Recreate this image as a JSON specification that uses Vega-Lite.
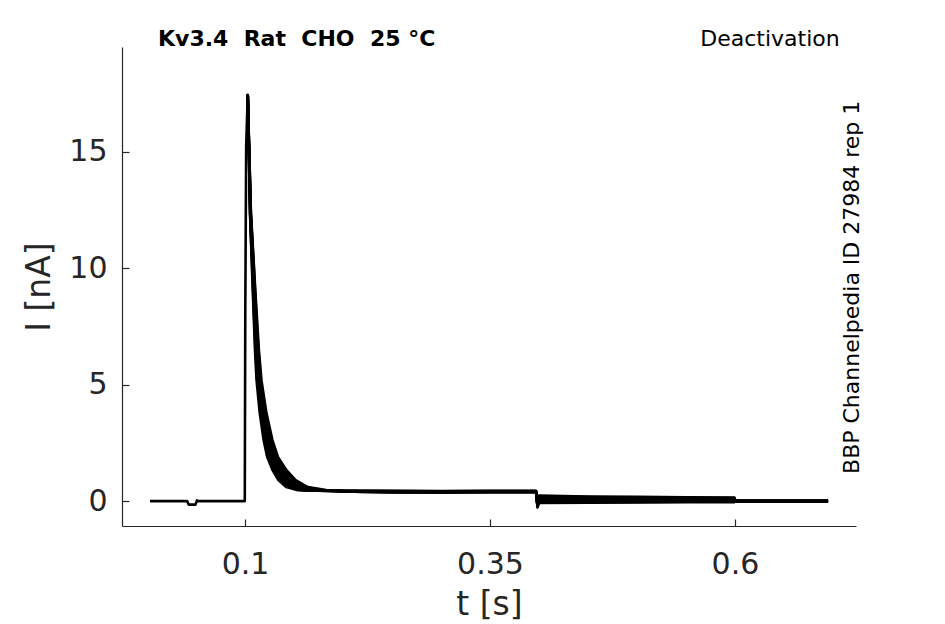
{
  "$schema": "https://vega.github.io/schema/vega-lite/v6.json",
  "width": 734,
  "height": 479,
  "autosize": {"type": "none"},
  "padding": {"left": 122, "top": 47, "right": 89, "bottom": 98},
  "background": "white",
  "config": {"view": {"stroke": null}, "font": "DejaVu Sans"},
  "title": {
    "text": "Kv3.4\u00a0 Rat\u00a0 CHO\u00a0 25 °C",
    "anchor": "start",
    "frame": "group",
    "dx": 36,
    "offset": -23,
    "font": "DejaVu Sans",
    "fontSize": 22,
    "fontWeight": "bold",
    "color": "black"
  },
  "layer": [
    {
      "data": {
        "values": [
          {"sweep": "e", "t": 0.003, "i": 0},
          {"sweep": "e", "t": 0.041, "i": 0},
          {"sweep": "e", "t": 0.0425, "i": -0.15},
          {"sweep": "e", "t": 0.0495, "i": -0.15},
          {"sweep": "e", "t": 0.051, "i": 0.03},
          {"sweep": "e", "t": 0.052, "i": 0},
          {"sweep": "e", "t": 0.0998, "i": 0},
          {"sweep": "e", "t": 0.1003, "i": 8},
          {"sweep": "e", "t": 0.1012, "i": 15.2},
          {"sweep": "e", "t": 0.1028, "i": 17.45},
          {"sweep": "e", "t": 0.1041, "i": 15.06},
          {"sweep": "e", "t": 0.1056, "i": 12.36},
          {"sweep": "e", "t": 0.1097, "i": 8.63},
          {"sweep": "e", "t": 0.1122, "i": 6.48},
          {"sweep": "e", "t": 0.1143, "i": 5.19},
          {"sweep": "e", "t": 0.1184, "i": 3.8},
          {"sweep": "e", "t": 0.1235, "i": 2.62},
          {"sweep": "e", "t": 0.1281, "i": 1.9},
          {"sweep": "e", "t": 0.1352, "i": 1.33},
          {"sweep": "e", "t": 0.1429, "i": 0.9},
          {"sweep": "e", "t": 0.1531, "i": 0.6},
          {"sweep": "e", "t": 0.1684, "i": 0.47},
          {"sweep": "e", "t": 0.1969, "i": 0.42},
          {"sweep": "e", "t": 0.25, "i": 0.41},
          {"sweep": "e", "t": 0.3, "i": 0.4},
          {"sweep": "e", "t": 0.35, "i": 0.41},
          {"sweep": "e", "t": 0.397, "i": 0.41},
          {"sweep": "e", "t": 0.3985, "i": -0.19},
          {"sweep": "e", "t": 0.4, "i": 0.06},
          {"sweep": "e", "t": 0.45, "i": 0.05},
          {"sweep": "e", "t": 0.5, "i": 0.05},
          {"sweep": "e", "t": 0.55, "i": 0.04},
          {"sweep": "e", "t": 0.5995, "i": 0.04},
          {"sweep": "e", "t": 0.6005, "i": 0},
          {"sweep": "e", "t": 0.695, "i": 0},

          {"sweep": "a", "t": 0.1028, "i": 17.45},
          {"sweep": "a", "t": 0.1039, "i": 15.06},
          {"sweep": "a", "t": 0.1051, "i": 12.36},
          {"sweep": "a", "t": 0.1083, "i": 8.63},
          {"sweep": "a", "t": 0.1102, "i": 6.48},
          {"sweep": "a", "t": 0.1118, "i": 5.19},
          {"sweep": "a", "t": 0.115, "i": 3.8},
          {"sweep": "a", "t": 0.119, "i": 2.62},
          {"sweep": "a", "t": 0.1226, "i": 1.9},
          {"sweep": "a", "t": 0.1281, "i": 1.33},
          {"sweep": "a", "t": 0.1341, "i": 0.9},
          {"sweep": "a", "t": 0.1421, "i": 0.6},
          {"sweep": "a", "t": 0.154, "i": 0.47},
          {"sweep": "a", "t": 0.1763, "i": 0.45},
          {"sweep": "a", "t": 0.25, "i": 0.44},
          {"sweep": "a", "t": 0.3, "i": 0.43},
          {"sweep": "a", "t": 0.35, "i": 0.44},
          {"sweep": "a", "t": 0.397, "i": 0.44},
          {"sweep": "a", "t": 0.3985, "i": -0.05},
          {"sweep": "a", "t": 0.4, "i": 0.24},
          {"sweep": "a", "t": 0.45, "i": 0.2},
          {"sweep": "a", "t": 0.5, "i": 0.18},
          {"sweep": "a", "t": 0.55, "i": 0.16},
          {"sweep": "a", "t": 0.5995, "i": 0.15},
          {"sweep": "a", "t": 0.6005, "i": 0.01},
          {"sweep": "a", "t": 0.695, "i": 0.01},

          {"sweep": "b", "t": 0.1028, "i": 17.45},
          {"sweep": "b", "t": 0.1039, "i": 15.06},
          {"sweep": "b", "t": 0.1052, "i": 12.36},
          {"sweep": "b", "t": 0.1086, "i": 8.63},
          {"sweep": "b", "t": 0.1107, "i": 6.48},
          {"sweep": "b", "t": 0.1125, "i": 5.19},
          {"sweep": "b", "t": 0.1159, "i": 3.8},
          {"sweep": "b", "t": 0.1201, "i": 2.62},
          {"sweep": "b", "t": 0.124, "i": 1.9},
          {"sweep": "b", "t": 0.1299, "i": 1.33},
          {"sweep": "b", "t": 0.1363, "i": 0.9},
          {"sweep": "b", "t": 0.1449, "i": 0.6},
          {"sweep": "b", "t": 0.1576, "i": 0.47},
          {"sweep": "b", "t": 0.1814, "i": 0.44},
          {"sweep": "b", "t": 0.25, "i": 0.43},
          {"sweep": "b", "t": 0.3, "i": 0.42},
          {"sweep": "b", "t": 0.35, "i": 0.43},
          {"sweep": "b", "t": 0.397, "i": 0.43},
          {"sweep": "b", "t": 0.3985, "i": -0.08},
          {"sweep": "b", "t": 0.4, "i": 0.2},
          {"sweep": "b", "t": 0.45, "i": 0.17},
          {"sweep": "b", "t": 0.5, "i": 0.15},
          {"sweep": "b", "t": 0.55, "i": 0.14},
          {"sweep": "b", "t": 0.5995, "i": 0.125},
          {"sweep": "b", "t": 0.6005, "i": 0},
          {"sweep": "b", "t": 0.695, "i": 0},

          {"sweep": "c", "t": 0.1028, "i": 17.45},
          {"sweep": "c", "t": 0.104, "i": 15.06},
          {"sweep": "c", "t": 0.1053, "i": 12.36},
          {"sweep": "c", "t": 0.109, "i": 8.63},
          {"sweep": "c", "t": 0.1112, "i": 6.48},
          {"sweep": "c", "t": 0.1131, "i": 5.19},
          {"sweep": "c", "t": 0.1167, "i": 3.8},
          {"sweep": "c", "t": 0.1213, "i": 2.62},
          {"sweep": "c", "t": 0.1254, "i": 1.9},
          {"sweep": "c", "t": 0.1317, "i": 1.33},
          {"sweep": "c", "t": 0.1385, "i": 0.9},
          {"sweep": "c", "t": 0.1476, "i": 0.6},
          {"sweep": "c", "t": 0.1612, "i": 0.47},
          {"sweep": "c", "t": 0.1866, "i": 0.44},
          {"sweep": "c", "t": 0.25, "i": 0.42},
          {"sweep": "c", "t": 0.3, "i": 0.41},
          {"sweep": "c", "t": 0.35, "i": 0.42},
          {"sweep": "c", "t": 0.397, "i": 0.42},
          {"sweep": "c", "t": 0.3985, "i": -0.12},
          {"sweep": "c", "t": 0.4, "i": 0.15},
          {"sweep": "c", "t": 0.45, "i": 0.13},
          {"sweep": "c", "t": 0.5, "i": 0.12},
          {"sweep": "c", "t": 0.55, "i": 0.11},
          {"sweep": "c", "t": 0.5995, "i": 0.1},
          {"sweep": "c", "t": 0.6005, "i": 0},
          {"sweep": "c", "t": 0.695, "i": 0},

          {"sweep": "d", "t": 0.1028, "i": 17.45},
          {"sweep": "d", "t": 0.1041, "i": 15.06},
          {"sweep": "d", "t": 0.1055, "i": 12.36},
          {"sweep": "d", "t": 0.1093, "i": 8.63},
          {"sweep": "d", "t": 0.1117, "i": 6.48},
          {"sweep": "d", "t": 0.1137, "i": 5.19},
          {"sweep": "d", "t": 0.1176, "i": 3.8},
          {"sweep": "d", "t": 0.1224, "i": 2.62},
          {"sweep": "d", "t": 0.1267, "i": 1.9},
          {"sweep": "d", "t": 0.1334, "i": 1.33},
          {"sweep": "d", "t": 0.1407, "i": 0.9},
          {"sweep": "d", "t": 0.1504, "i": 0.6},
          {"sweep": "d", "t": 0.1648, "i": 0.47},
          {"sweep": "d", "t": 0.1917, "i": 0.43},
          {"sweep": "d", "t": 0.25, "i": 0.41},
          {"sweep": "d", "t": 0.3, "i": 0.405},
          {"sweep": "d", "t": 0.35, "i": 0.415},
          {"sweep": "d", "t": 0.397, "i": 0.415},
          {"sweep": "d", "t": 0.3985, "i": -0.16},
          {"sweep": "d", "t": 0.4, "i": 0.1},
          {"sweep": "d", "t": 0.45, "i": 0.09},
          {"sweep": "d", "t": 0.5, "i": 0.08},
          {"sweep": "d", "t": 0.55, "i": 0.075},
          {"sweep": "d", "t": 0.5995, "i": 0.07},
          {"sweep": "d", "t": 0.6005, "i": 0},
          {"sweep": "d", "t": 0.695, "i": 0},

          {"sweep": "f", "t": 0.1028, "i": 17.45},
          {"sweep": "f", "t": 0.1042, "i": 15.06},
          {"sweep": "f", "t": 0.1057, "i": 12.36},
          {"sweep": "f", "t": 0.1101, "i": 8.63},
          {"sweep": "f", "t": 0.1127, "i": 6.48},
          {"sweep": "f", "t": 0.1149, "i": 5.19},
          {"sweep": "f", "t": 0.1192, "i": 3.8},
          {"sweep": "f", "t": 0.1246, "i": 2.62},
          {"sweep": "f", "t": 0.1295, "i": 1.9},
          {"sweep": "f", "t": 0.137, "i": 1.33},
          {"sweep": "f", "t": 0.1451, "i": 0.9},
          {"sweep": "f", "t": 0.1559, "i": 0.6},
          {"sweep": "f", "t": 0.172, "i": 0.47},
          {"sweep": "f", "t": 0.2021, "i": 0.42},
          {"sweep": "f", "t": 0.25, "i": 0.4},
          {"sweep": "f", "t": 0.3, "i": 0.39},
          {"sweep": "f", "t": 0.35, "i": 0.4},
          {"sweep": "f", "t": 0.397, "i": 0.4},
          {"sweep": "f", "t": 0.3985, "i": -0.21},
          {"sweep": "f", "t": 0.4, "i": 0.02},
          {"sweep": "f", "t": 0.45, "i": 0.02},
          {"sweep": "f", "t": 0.5, "i": 0.02},
          {"sweep": "f", "t": 0.55, "i": 0.015},
          {"sweep": "f", "t": 0.5995, "i": 0.015},
          {"sweep": "f", "t": 0.6005, "i": 0},
          {"sweep": "f", "t": 0.695, "i": 0},

          {"sweep": "g", "t": 0.1028, "i": 17.45},
          {"sweep": "g", "t": 0.1042, "i": 15.06},
          {"sweep": "g", "t": 0.1059, "i": 12.36},
          {"sweep": "g", "t": 0.1104, "i": 8.63},
          {"sweep": "g", "t": 0.1132, "i": 6.48},
          {"sweep": "g", "t": 0.1155, "i": 5.19},
          {"sweep": "g", "t": 0.1201, "i": 3.8},
          {"sweep": "g", "t": 0.1257, "i": 2.62},
          {"sweep": "g", "t": 0.1309, "i": 1.9},
          {"sweep": "g", "t": 0.1387, "i": 1.33},
          {"sweep": "g", "t": 0.1473, "i": 0.9},
          {"sweep": "g", "t": 0.1586, "i": 0.6},
          {"sweep": "g", "t": 0.1756, "i": 0.47},
          {"sweep": "g", "t": 0.2072, "i": 0.41},
          {"sweep": "g", "t": 0.25, "i": 0.39},
          {"sweep": "g", "t": 0.3, "i": 0.38},
          {"sweep": "g", "t": 0.35, "i": 0.39},
          {"sweep": "g", "t": 0.397, "i": 0.39},
          {"sweep": "g", "t": 0.3985, "i": -0.22},
          {"sweep": "g", "t": 0.4, "i": -0.02},
          {"sweep": "g", "t": 0.45, "i": -0.02},
          {"sweep": "g", "t": 0.5, "i": -0.01},
          {"sweep": "g", "t": 0.55, "i": -0.01},
          {"sweep": "g", "t": 0.5995, "i": -0.01},
          {"sweep": "g", "t": 0.6005, "i": 0},
          {"sweep": "g", "t": 0.695, "i": 0},

          {"sweep": "h", "t": 0.1028, "i": 17.45},
          {"sweep": "h", "t": 0.1043, "i": 15.06},
          {"sweep": "h", "t": 0.106, "i": 12.36},
          {"sweep": "h", "t": 0.1108, "i": 8.63},
          {"sweep": "h", "t": 0.1137, "i": 6.48},
          {"sweep": "h", "t": 0.1162, "i": 5.19},
          {"sweep": "h", "t": 0.1209, "i": 3.8},
          {"sweep": "h", "t": 0.1269, "i": 2.62},
          {"sweep": "h", "t": 0.1322, "i": 1.9},
          {"sweep": "h", "t": 0.1405, "i": 1.33},
          {"sweep": "h", "t": 0.1495, "i": 0.9},
          {"sweep": "h", "t": 0.1614, "i": 0.6},
          {"sweep": "h", "t": 0.1792, "i": 0.47},
          {"sweep": "h", "t": 0.2124, "i": 0.4},
          {"sweep": "h", "t": 0.25, "i": 0.38},
          {"sweep": "h", "t": 0.3, "i": 0.375},
          {"sweep": "h", "t": 0.35, "i": 0.385},
          {"sweep": "h", "t": 0.397, "i": 0.385},
          {"sweep": "h", "t": 0.3985, "i": -0.25},
          {"sweep": "h", "t": 0.4, "i": -0.05},
          {"sweep": "h", "t": 0.45, "i": -0.045},
          {"sweep": "h", "t": 0.5, "i": -0.035},
          {"sweep": "h", "t": 0.55, "i": -0.03},
          {"sweep": "h", "t": 0.5995, "i": -0.03},
          {"sweep": "h", "t": 0.6005, "i": 0},
          {"sweep": "h", "t": 0.695, "i": 0},

          {"sweep": "i", "t": 0.1028, "i": 17.45},
          {"sweep": "i", "t": 0.1043, "i": 15.06},
          {"sweep": "i", "t": 0.1061, "i": 12.36},
          {"sweep": "i", "t": 0.1111, "i": 8.63},
          {"sweep": "i", "t": 0.1142, "i": 6.48},
          {"sweep": "i", "t": 0.1168, "i": 5.19},
          {"sweep": "i", "t": 0.1218, "i": 3.8},
          {"sweep": "i", "t": 0.128, "i": 2.62},
          {"sweep": "i", "t": 0.1336, "i": 1.9},
          {"sweep": "i", "t": 0.1423, "i": 1.33},
          {"sweep": "i", "t": 0.1517, "i": 0.9},
          {"sweep": "i", "t": 0.1641, "i": 0.6},
          {"sweep": "i", "t": 0.1828, "i": 0.47},
          {"sweep": "i", "t": 0.2175, "i": 0.39},
          {"sweep": "i", "t": 0.25, "i": 0.37},
          {"sweep": "i", "t": 0.3, "i": 0.37},
          {"sweep": "i", "t": 0.35, "i": 0.38},
          {"sweep": "i", "t": 0.397, "i": 0.38},
          {"sweep": "i", "t": 0.3985, "i": -0.27},
          {"sweep": "i", "t": 0.4, "i": -0.08},
          {"sweep": "i", "t": 0.45, "i": -0.07},
          {"sweep": "i", "t": 0.5, "i": -0.06},
          {"sweep": "i", "t": 0.55, "i": -0.05},
          {"sweep": "i", "t": 0.5995, "i": -0.05},
          {"sweep": "i", "t": 0.6005, "i": 0},
          {"sweep": "i", "t": 0.695, "i": 0}
        ]
      },
      "mark": {"type": "line", "color": "black", "strokeWidth": 2.6, "strokeJoin": "round"},
      "encoding": {
        "x": {
          "field": "t",
          "type": "quantitative",
          "scale": {"domain": [-0.0255, 0.7235], "nice": false, "zero": false},
          "axis": {
            "title": "t [s]",
            "values": [0.1, 0.35, 0.6],
            "format": "~g",
            "grid": false,
            "tickSize": -7,
            "labelPadding": 30,
            "labelFlush": false,
            "labelFont": "DejaVu Sans",
            "labelFontSize": 30,
            "labelColor": "#262626",
            "titleFont": "DejaVu Sans",
            "titleFontSize": 33,
            "titleFontWeight": "normal",
            "titleColor": "#262626",
            "titlePadding": 9,
            "domainColor": "#262626",
            "domainWidth": 1.2,
            "tickColor": "#262626",
            "tickWidth": 1.2
          }
        },
        "y": {
          "field": "i",
          "type": "quantitative",
          "scale": {"domain": [-1.07, 19.5], "nice": false, "zero": false},
          "axis": {
            "title": "I [nA]",
            "values": [0, 5, 10, 15],
            "format": "~g",
            "grid": false,
            "tickSize": -7,
            "labelPadding": 22,
            "labelFont": "DejaVu Sans",
            "labelFontSize": 30,
            "labelColor": "#262626",
            "titleFont": "DejaVu Sans",
            "titleFontSize": 33,
            "titleFontWeight": "normal",
            "titleColor": "#262626",
            "titlePadding": 12,
            "domainColor": "#262626",
            "domainWidth": 1.2,
            "tickColor": "#262626",
            "tickWidth": 1.2
          }
        },
        "detail": {"field": "sweep"}
      }
    },
    {
      "data": {"values": [{"label": "Deactivation"}]},
      "mark": {"type": "text", "font": "DejaVu Sans", "fontSize": 22, "color": "black", "align": "center", "baseline": "middle"},
      "encoding": {
        "x": {"datum": 0.6357},
        "y": {"datum": 19.84},
        "text": {"field": "label"}
      }
    },
    {
      "data": {"values": [{"label": "BBP Channelpedia ID 27984 rep 1"}]},
      "mark": {"type": "text", "font": "DejaVu Sans", "fontSize": 22, "color": "black", "align": "center", "baseline": "middle", "angle": 270},
      "encoding": {
        "x": {"datum": 0.7193},
        "y": {"datum": 9.18},
        "text": {"field": "label"}
      }
    }
  ]
}
